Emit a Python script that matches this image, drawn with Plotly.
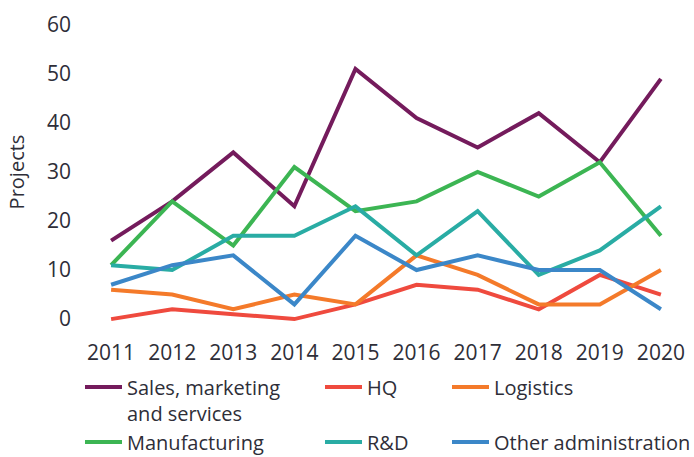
import plotly.graph_objects as go

years = [2011, 2012, 2013, 2014, 2015, 2016, 2017, 2018, 2019, 2020]

sales = [16, 24, 34, 23, 51, 41, 35, 42, 32, 49]
hq = [0, 2, 1, 0, 3, 7, 6, 2, 9, 5]
logistics = [6, 5, 2, 5, 3, 13, 9, 3, 3, 10]
manufacturing = [11, 24, 15, 31, 22, 24, 30, 25, 32, 17]
rnd = [11, 10, 17, 17, 23, 13, 22, 9, 14, 23]
other_admin = [7, 11, 13, 3, 17, 10, 13, 10, 10, 2]

y_ticks = [0, 10, 20, 30, 40, 50, 60]

FONT = "Open Sans"
TEXT = "#2e2e38"

# name, values, colour, legend column
series = [
    ("Sales, marketing<br>and services", sales, "#741b5c", "legend"),
    ("HQ", hq, "#ef4a3e", "legend2"),
    ("Logistics", logistics, "#f47a2a", "legend3"),
    ("Manufacturing", manufacturing, "#3cb553", "legend"),
    ("R&D", rnd, "#29aca4", "legend2"),
    ("Other administration", other_admin, "#3b87c8", "legend3"),
]

fig = go.Figure()
for i, (name, vals, color, leg) in enumerate(series):
    fig.add_trace(go.Scatter(
        x=years, y=vals, name=name, mode="lines",
        line=dict(color=color, width=4),
        legend=leg, legendgroup=f"g{i}",
    ))

PLOT_L, PLOT_W = 105, 562
legend_common = dict(
    orientation="v", yanchor="top", xanchor="left",
    font=dict(family=FONT, size=20, color=TEXT),
    bgcolor="rgba(0,0,0,0)", valign="top", itemwidth=37,
    traceorder="grouped", y=-0.143,
)


def col_x(px):
    return (px - PLOT_L) / PLOT_W


fig.update_layout(
    width=694, height=457,
    margin=dict(l=PLOT_L, r=27, t=20, b=133, autoexpand=False),
    plot_bgcolor="white", paper_bgcolor="white",
    font=dict(family=FONT, size=20, color=TEXT),
    showlegend=True,
    legend=dict(x=col_x(80), tracegroupgap=0, **legend_common),
    legend2=dict(x=col_x(320), tracegroupgap=26, **legend_common),
    legend3=dict(x=col_x(447), tracegroupgap=26, **legend_common),
    xaxis=dict(
        range=[2010.9, 2020.1], tickmode="array", tickvals=years,
        ticktext=[str(y) for y in years], showgrid=False, zeroline=False,
        showline=False, ticks="", ticklabelstandoff=14,
        tickfont=dict(family=FONT, size=21, color=TEXT),
    ),
    yaxis=dict(
        range=[-1, 61], tickmode="array", tickvals=y_ticks,
        showgrid=False, zeroline=False, showline=False, ticks="",
        ticklabelstandoff=33,
        tickfont=dict(family=FONT, size=21, color=TEXT),
        title=dict(text="Projects", standoff=16,
                   font=dict(family=FONT, size=20, color=TEXT)),
    ),
)

fig.write_html("out.html")
